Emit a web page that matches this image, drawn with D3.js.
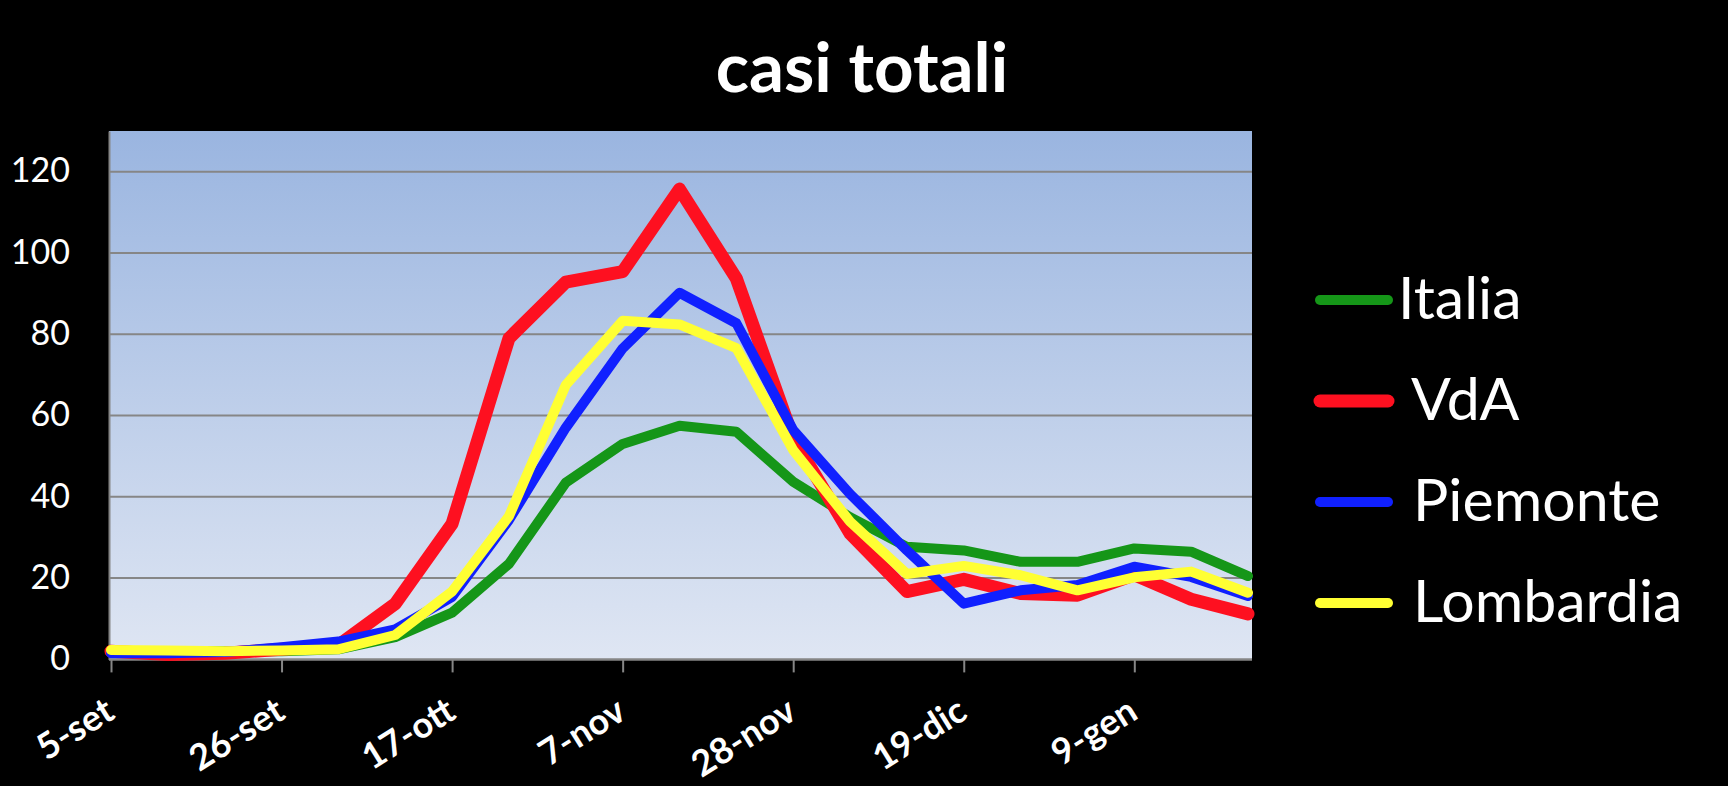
<!DOCTYPE html>
<html>
<head>
<meta charset="utf-8">
<script src="https://cdn.jsdelivr.net/npm/d3@7"></script>
<style>
  html, body { margin: 0; padding: 0; background: #000; }
  svg { display: block; }
</style>
</head>
<body>
<svg id="chart" width="1728" height="786"></svg>
<script>
// ---- data ----
const title = "casi totali";
const dates = ["5-set","12-set","19-set","26-set","3-ott","10-ott","17-ott","24-ott","31-ott",
  "7-nov","14-nov","21-nov","28-nov","5-dic","12-dic","19-dic","26-dic","2-gen","9-gen","16-gen","23-gen"];
const tickLabels = ["5-set","26-set","17-ott","7-nov","28-nov","19-dic","9-gen"];
const yTicks = [0, 20, 40, 60, 80, 100, 120];
const seriesNames = ["Italia", "VdA", "Piemonte", "Lombardia"];
const legendLabels = ["Italia", " VdA", " Piemonte", " Lombardia"];
const italia    = [2, 2, 2, 2, 2.5, 5.5, 11.5, 23.5, 43.5, 53, 57.5, 56, 43.7, 35, 27.7, 26.8, 24, 24, 27.3, 26.5, 20.5];
const vda       = [2, 1.2, 1.5, 2.5, 3.5, 13.7, 33.4, 79, 92.8, 95.4, 115.7, 93.7, 54.4, 31, 16.7, 19.7, 16.2, 15.8, 20.8, 14.8, 11.2];
const piemonte  = [1.5, 1.5, 1.8, 3, 4.4, 7.4, 15.4, 34.3, 57, 76.5, 90.2, 82.7, 56.4, 40.7, 26.8, 13.7, 17, 18.3, 22.8, 20.3, 15.6];
const lombardia = [2.3, 2.2, 2, 2.2, 2.5, 6, 16.7, 35.2, 67.5, 83.3, 82.4, 76.6, 51.5, 33.9, 21, 23, 20.7, 17, 20.2, 21.6, 16.4];

// ---- styles ----
const seriesColors = ["#159618", "#fe1020", "#1020ff", "#ffff33"];
const seriesWidths = [10, 13, 10, 10];
const gridColor = "#868686";

const series = [italia, vda, piemonte, lombardia].map((values, i) => ({
  name: seriesNames[i], label: legendLabels[i], values, color: seriesColors[i], width: seriesWidths[i]
}));

const svg = d3.select("#chart");
const plot = { left: 109, right: 1252, top: 131, bottom: 659.4 };

const x = d3.scalePoint().domain(dates).range([111, 1248]);
const y = d3.scaleLinear().domain([0, 130]).range([plot.bottom, plot.top]);

// background gradient
const defs = svg.append("defs");
const grad = defs.append("linearGradient").attr("id", "bg")
  .attr("x1", 0).attr("y1", 0).attr("x2", 0).attr("y2", 1);
grad.append("stop").attr("offset", "0%").attr("stop-color", "#9ab5e0");
grad.append("stop").attr("offset", "100%").attr("stop-color", "#dfe6f3");

svg.append("rect")
  .attr("x", plot.left).attr("y", plot.top)
  .attr("width", plot.right - plot.left).attr("height", plot.bottom - plot.top)
  .attr("fill", "url(#bg)");

// gridlines
svg.append("g").selectAll("line")
  .data(yTicks.filter(v => v > 0))
  .join("line")
  .attr("x1", plot.left).attr("x2", plot.right)
  .attr("y1", d => y(d)).attr("y2", d => y(d))
  .attr("stroke", gridColor).attr("stroke-width", 2);

// y axis
const yAxis = svg.append("g")
  .attr("transform", `translate(${plot.left},0)`)
  .call(d3.axisLeft(y).tickValues(yTicks).tickSize(0).tickPadding(39).tickSizeOuter(0));
yAxis.select(".domain").attr("stroke", gridColor).attr("stroke-width", 2);
yAxis.selectAll("text")
  .attr("fill", "#fff")
  .attr("dy", "0.3em")
  .style("font-family", "Lato, 'Open Sans', sans-serif")
  .style("font-size", "34px");

// x axis
const xAxis = svg.append("g")
  .attr("transform", `translate(0,${plot.bottom})`)
  .call(d3.axisBottom(x).tickValues(tickLabels).tickSize(13).tickSizeOuter(0));
xAxis.select(".domain").remove();
xAxis.append("line")
  .attr("x1", plot.left).attr("x2", plot.right)
  .attr("y1", 0).attr("y2", 0)
  .attr("stroke", gridColor).attr("stroke-width", 2.5);
xAxis.selectAll(".tick line").attr("stroke", gridColor).attr("stroke-width", 2);
xAxis.selectAll(".tick text")
  .attr("fill", "#fff")
  .attr("x", 0).attr("y", 0).attr("dy", 0)
  .attr("text-anchor", "end")
  .attr("transform", "translate(5,58) rotate(-32)")
  .style("font-family", "Lato, 'Open Sans', sans-serif")
  .style("font-weight", "bold")
  .style("font-size", "36px");

// lines
const line = d3.line()
  .x((d, i) => x(dates[i]))
  .y(d => y(d));

svg.append("g").selectAll("path")
  .data(series)
  .join("path")
  .attr("d", d => line(d.values))
  .attr("fill", "none")
  .attr("stroke", d => d.color)
  .attr("stroke-width", d => d.width)
  .attr("stroke-linejoin", "round")
  .attr("stroke-linecap", "round");

// legend
const legend = svg.append("g");
const leg = legend.selectAll("g")
  .data(series)
  .join("g")
  .attr("transform", (d, i) => `translate(0,${300 + i * 101})`);
leg.append("line")
  .attr("x1", 1320).attr("x2", 1388)
  .attr("y1", 0).attr("y2", 0)
  .attr("stroke", d => d.color)
  .attr("stroke-width", d => d.width)
  .attr("stroke-linecap", "round");
leg.append("text")
  .attr("x", 1398).attr("y", 19)
  .attr("fill", "#fff")
  .style("white-space", "pre")
  .attr("xml:space", "preserve")
  .style("font-family", "Lato, 'Open Sans', sans-serif")
  .style("font-size", "59px")
  .text(d => d.label);

// title
svg.append("text")
  .attr("x", 862).attr("y", 91.7)
  .attr("text-anchor", "middle")
  .attr("fill", "#fff")
  .style("font-family", "Lato, 'Open Sans', sans-serif")
  .style("font-weight", "bold")
  .style("font-size", "69px")
  .text(title);
</script>
</body>
</html>
